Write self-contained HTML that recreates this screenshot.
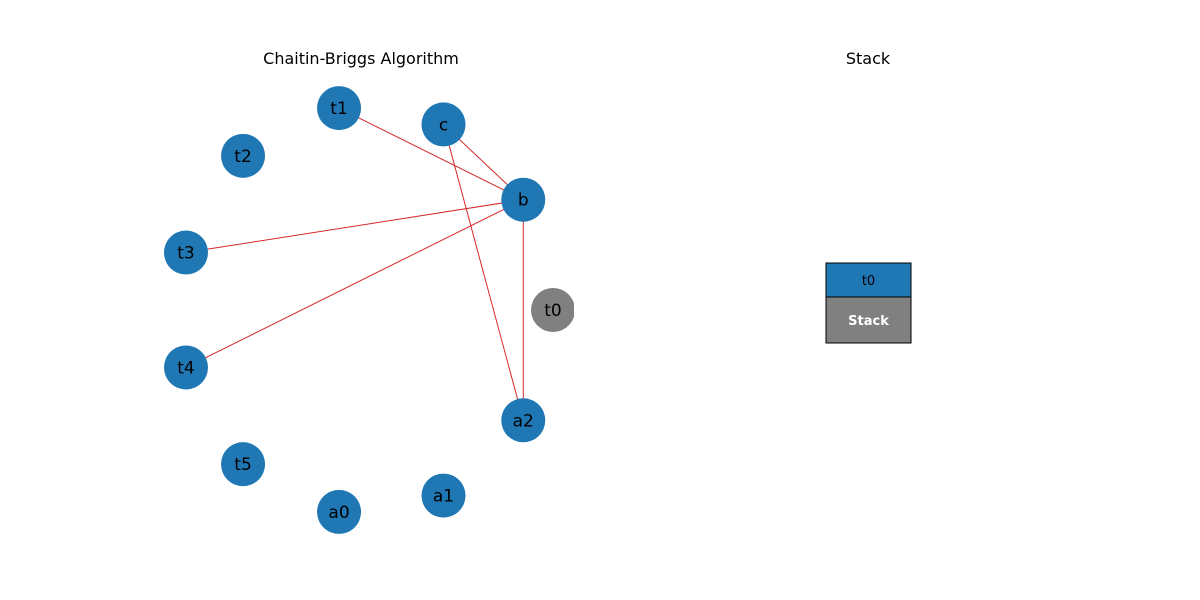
<!DOCTYPE html>
<html><head><meta charset="utf-8"><style>body{margin:0;background:#fff}svg{display:block;font-family:"DejaVu Sans","Liberation Sans",sans-serif}</style></head>
<body>
<svg id="s" width="1200" height="600">
<defs><clipPath id="cp"><rect x="150" y="72" width="424" height="463"/></clipPath></defs>
<text x="361" y="64" font-size="16" text-anchor="middle">Chaitin-Briggs Algorithm</text>
<text x="868" y="64" font-size="16" text-anchor="middle">Stack</text>
<g id="edges" clip-path="url(#cp)"></g>
<g id="nodes" clip-path="url(#cp)"></g>
<g id="stack"></g>
</svg>
<script>
const nodes=["t0","b","c","t1","t2","t3","t4","t5","a0","a1","a2"];
const nodeColors=["#808080","#1f77b4","#1f77b4","#1f77b4","#1f77b4","#1f77b4","#1f77b4","#1f77b4","#1f77b4","#1f77b4","#1f77b4"];
const edgeFrom=["t1","c","c","b","b","b"];
const edgeTo=["b","b","a2","t3","t4","a2"];
const stackItems=["t0"];
const NS="http://www.w3.org/2000/svg";
const cx=365.7,cy=310,rx=187.3,ry=204;
function pos(n){const i=nodes.indexOf(n);const a=i*2*Math.PI/nodes.length;return [cx+rx*Math.cos(a),cy-ry*Math.sin(a)];}
const eg=document.getElementById('edges'),ng=document.getElementById('nodes'),sg=document.getElementById('stack');
edgeFrom.forEach((f,i)=>{const p=pos(f),q=pos(edgeTo[i]);const l=document.createElementNS(NS,'line');
l.setAttribute('x1',p[0]);l.setAttribute('y1',p[1]);l.setAttribute('x2',q[0]);l.setAttribute('y2',q[1]);
l.setAttribute('stroke','#d62728');l.setAttribute('stroke-width','1');


eg.appendChild(l);});
nodes.forEach((n,i)=>{const p=pos(n);const g=document.createElementNS(NS,'g');


const c=document.createElementNS(NS,'circle');c.setAttribute('cx',p[0]);c.setAttribute('cy',p[1]);c.setAttribute('r',22);c.setAttribute('fill',nodeColors[i]);
const t=document.createElementNS(NS,'text');t.setAttribute('x',p[0]);t.setAttribute('y',p[1]+6);t.setAttribute('text-anchor','middle');t.setAttribute('font-size','17');t.textContent=n;
g.appendChild(c);g.appendChild(t);ng.appendChild(g);});
const bx=826,bw=85,baseTop=297,baseH=46,itemH=34;
const base=document.createElementNS(NS,'g');


base.innerHTML=`<rect x="${bx}" y="${baseTop}" width="${bw}" height="${baseH}" fill="#808080" stroke="#000" stroke-width="1"/><text x="${bx+bw/2}" y="${baseTop+28}" text-anchor="middle" font-size="13" font-weight="bold" fill="#fff">Stack</text>`;
sg.appendChild(base);
stackItems.forEach((s,i)=>{const y=baseTop-itemH*(i+1);const g=document.createElementNS(NS,'g');


g.innerHTML=`<rect x="${bx}" y="${y}" width="${bw}" height="${itemH}" fill="#1f77b4" stroke="#000" stroke-width="1"/><text x="${bx+bw/2}" y="${y+22}" text-anchor="middle" font-size="13">${s}</text>`;
sg.appendChild(g);});
</script>
</body></html>
